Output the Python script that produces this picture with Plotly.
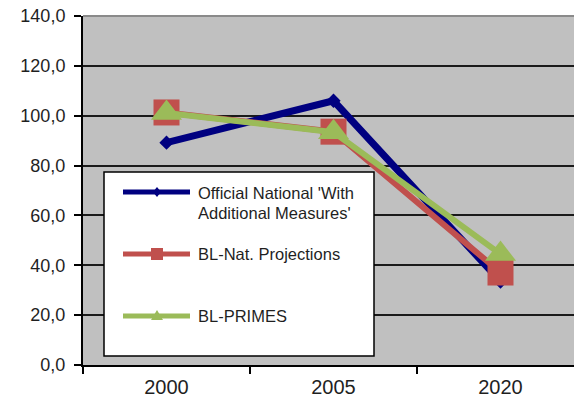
import plotly.graph_objects as go

# ---- data ----
categories = ["2000", "2005", "2020"]
official_wam = [89.2, 106.0, 33.5]
bl_nat = [101.3, 93.6, 37.1]
bl_primes = [101.1, 93.4, 44.5]
y_ticks = [0, 20, 40, 60, 80, 100, 120, 140]
series_names = ["Official National 'With<br>Additional Measures'", "BL-Nat. Projections", "BL-PRIMES"]

BLUE = "#000080"
RED = "#C0504D"
GREEN = "#9BBB59"
TXT = "#1f1f1f"
FONT = "Liberation Sans, Arial, sans-serif"

W, H = 574, 402
L, R, T, B = 83, 574, 16, 365

def px(x):
    return (x - L) / (R - L)

def py(y):
    return (B - y) / (B - T)

fig = go.Figure()
fig.add_trace(go.Scatter(x=categories, y=official_wam, mode="lines+markers",
                         line=dict(color=BLUE, width=7),
                         marker=dict(symbol="diamond", size=11, color=BLUE),
                         name=series_names[0]))
fig.add_trace(go.Scatter(x=categories, y=bl_nat, mode="lines+markers",
                         line=dict(color=RED, width=6),
                         marker=dict(symbol="square", size=26, color=RED),
                         name=series_names[1]))
fig.add_trace(go.Scatter(x=categories, y=bl_primes, mode="lines+markers",
                         line=dict(color=GREEN, width=6),
                         marker=dict(symbol="triangle-up", size=27, color=GREEN),
                         name=series_names[2]))

shapes = []
annotations = []
# plot top border (gray)
shapes.append(dict(type="line", xref="paper", yref="paper", x0=0, x1=1, y0=1, y1=1,
                   line=dict(color="#8a8a8a", width=2), layer="above"))
# legend box
shapes.append(dict(type="rect", xref="paper", yref="paper",
                   x0=px(104), x1=px(374), y0=py(356), y1=py(172),
                   fillcolor="white", line=dict(color="black", width=1.5), layer="above"))

lx0, lx1, lmid = 123, 190, 157
rows = [192, 254, 316]
colors = [BLUE, RED, GREEN]
for yy, c in zip(rows, colors):
    shapes.append(dict(type="line", xref="paper", yref="paper",
                       x0=px(lx0), x1=px(lx1), y0=py(yy), y1=py(yy),
                       line=dict(color=c, width=5), layer="above"))

def path(points):
    s = "M " + " L ".join(f"{px(x):.5f},{py(y):.5f}" for x, y in points) + " Z"
    return s

# diamond
d = 5
shapes.append(dict(type="path", xref="paper", yref="paper",
                   path=path([(lmid, rows[0] - d), (lmid + d - 1, rows[0]), (lmid, rows[0] + d), (lmid - d + 1, rows[0])]),
                   fillcolor=BLUE, line=dict(color=BLUE, width=0), layer="above"))
# square
s = 6
shapes.append(dict(type="path", xref="paper", yref="paper",
                   path=path([(lmid - s, rows[1] - s), (lmid + s, rows[1] - s), (lmid + s, rows[1] + s), (lmid - s, rows[1] + s)]),
                   fillcolor=RED, line=dict(color=RED, width=0), layer="above"))
# triangle
t = 5
shapes.append(dict(type="path", xref="paper", yref="paper",
                   path=path([(lmid, rows[2] - t - 1), (lmid + t + 1, rows[2] + t - 1), (lmid - t - 1, rows[2] + t - 1)]),
                   fillcolor=GREEN, line=dict(color=GREEN, width=0), layer="above"))

legend_texts = [("Official National 'With", 193), ("Additional Measures'", 213),
                ("BL-Nat. Projections", 254), ("BL-PRIMES", 316)]
for txt, yy in legend_texts:
    annotations.append(dict(text=txt, xref="paper", yref="paper", x=px(196), y=py(yy),
                            xanchor="left", yanchor="middle", showarrow=False,
                            font=dict(size=16.5, color=TXT, family=FONT)))

fig.update_layout(
    width=W, height=H,
    margin=dict(l=L, r=W - R, t=T, b=H - B),
    paper_bgcolor="white",
    plot_bgcolor="#C0C0C0",
    showlegend=False,
    separators=",.",
    font=dict(family=FONT, color=TXT),
    shapes=shapes,
    annotations=annotations,
)
fig.update_xaxes(type="category", categoryorder="array", categoryarray=categories,
                 range=[-0.5, -0.5 + (R - L) / 167.0],
                 showgrid=False, showline=True, linecolor="black", linewidth=2,
                 ticks="outside", tickson="boundaries", ticklen=7, tickwidth=1.5, tickcolor="black",
                 ticklabelstandoff=3,
                 tickfont=dict(size=20, color=TXT, family=FONT), zeroline=False)
fig.update_yaxes(range=[0, 140], tickvals=y_ticks, tickformat=".1f",
                 showgrid=True, gridcolor="#1a1a1a", gridwidth=1.5,
                 showline=True, linecolor="black", linewidth=2,
                 ticks="outside", ticklen=7, tickwidth=1.5, tickcolor="black",
                 ticklabelstandoff=5,
                 tickfont=dict(size=18, color=TXT, family=FONT), zeroline=False)

fig.write_html("out.html", config={"displayModeBar": False},
               post_script="document.body.style.margin='0';document.body.style.overflow='hidden';")
